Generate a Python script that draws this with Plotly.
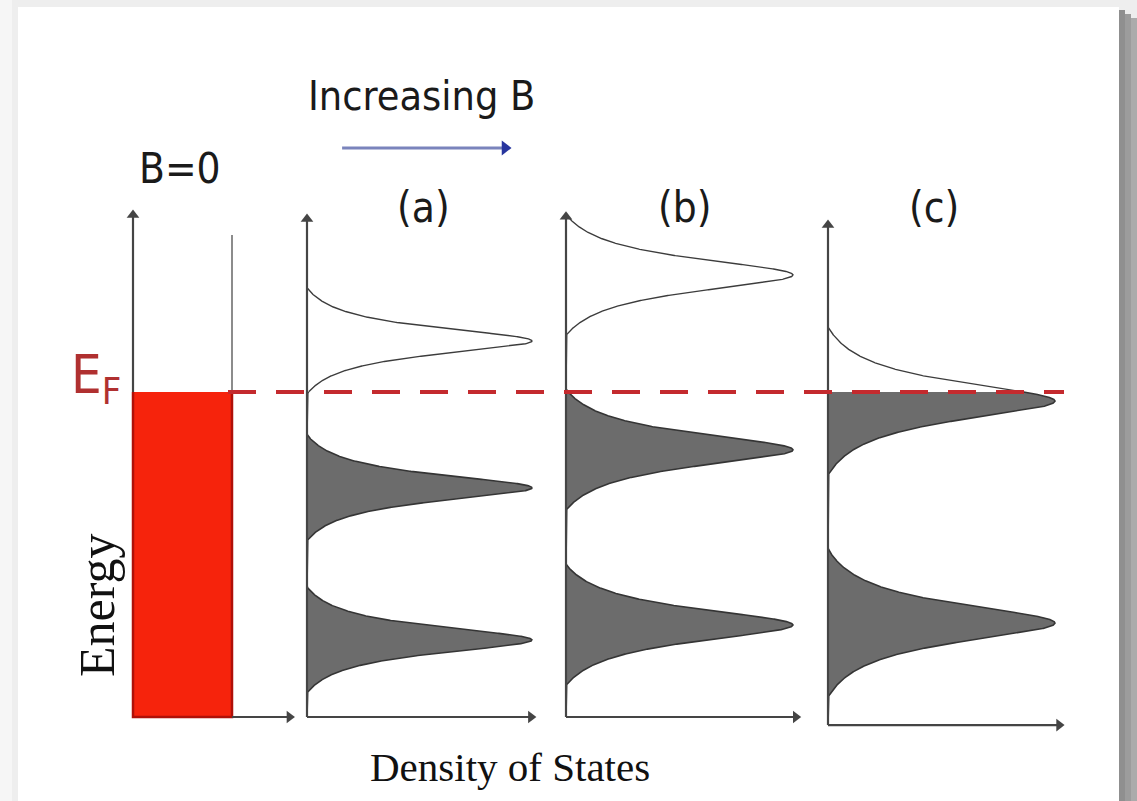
import numpy as np
import plotly.graph_objects as go

W, H = 1137, 801

# ---- data -------------------------------------------------------------
# Energy in units where the bottom of the DOS axes is 0 and E_F is 1
E_FERMI = 1.0
E_RANGE = [-0.2585, 2.2062]

# B = 0: flat 2D density of states, occupied up to E_F
dos_b0 = 1.0
b0_line_top = 1.483

panel_labels = ["(a)", "(b)", "(c)"]
# Landau level centres for increasing field
levels_a = [0.237, 0.705, 1.157]
levels_b = [0.283, 0.822, 1.360]
levels_c = [0.289, 0.972]
# Lorentzian broadening and cut-off half-width of each level
gamma = [0.052, 0.064, 0.074]
cutoff = [0.163, 0.186, 0.228]
peak_height = [1.0, 1.0, 1.0]
# top of each energy axis and bottom of each DOS axis
axis_top = [1.545, 1.532, 1.539, 1.514]
axis_bottom = [0.0, 0.0, 0.0, -0.025]

# ---- helpers ----------------------------------------------------------
def px_x(p):
    return p / W


def px_y(p):
    return 1 - p / H


def landau_dos(E, levels, g, w, A):
    base = 1.0 / (1.0 + (w / g) ** 2)
    total = np.zeros_like(E)
    for e0 in levels:
        L = 1.0 / (1.0 + ((E - e0) / g) ** 2)
        total += A * np.clip((L - base) / (1 - base), 0, None)
    return total


fig = go.Figure()

# panel geometry: (axis id, origin in px, px per DOS unit, arrow length)
panels = [("x", 133, 99.0, 1.58), ("x2", 307, 225.0, 0.995),
          ("x3", 566, 227.0, 1.012), ("x4", 828, 227.0, 1.018)]

axis_col = "#454545"
fill_col = "#6c6c6c"
edge_col = "#353535"

layout_axes = {}
for i, (ax, x0, unit, _) in enumerate(panels):
    left, right = (13, 167) if i == 0 else (12, 250)
    name = "xaxis" if ax == "x" else "xaxis" + ax[1:]
    layout_axes[name] = dict(domain=[px_x(x0 - left), px_x(x0 + right)],
                             range=[-left / unit, right / unit],
                             visible=False, anchor="y", fixedrange=True)


def line(ax, xs, ys, color, width, head=None, head_color=None, head_size=10):
    """Polyline on a panel, optionally ending in a triangular arrow head."""
    fig.add_trace(go.Scatter(x=xs, y=ys, mode="lines", xaxis=ax, yaxis="y",
                             hoverinfo="skip", showlegend=False,
                             line=dict(color=color, width=width)))
    if head:
        fig.add_trace(go.Scatter(x=[xs[-1]], y=[ys[-1]], mode="markers",
                                 xaxis=ax, yaxis="y", hoverinfo="skip",
                                 showlegend=False,
                                 marker=dict(symbol=head, size=head_size,
                                             color=head_color or color,
                                             line=dict(width=0))))


# B = 0 panel: occupied states in red
fig.add_trace(go.Scatter(x=[dos_b0, dos_b0], y=[axis_bottom[0], E_FERMI],
                         mode="lines", fill="tozerox", fillcolor="#f6230c",
                         line=dict(width=0), xaxis="x", yaxis="y",
                         hoverinfo="skip", showlegend=False))
line("x", [dos_b0, dos_b0], [E_FERMI, b0_line_top], "#666666", 1.5)
line("x", [0, 0, dos_b0, dos_b0], [E_FERMI, axis_bottom[0], axis_bottom[0], E_FERMI],
     "#b01008", 2.5)

# Landau-quantised panels
level_sets = [levels_a, levels_b, levels_c]
for i, levels in enumerate(level_sets):
    ax = panels[i + 1][0]
    E = np.linspace(axis_bottom[i + 1], axis_top[i + 1], 3001)
    E = np.unique(np.append(E, E_FERMI))
    d = landau_dos(E, levels, gamma[i], cutoff[i], peak_height[i])
    occ = E <= E_FERMI
    fig.add_trace(go.Scatter(x=d[occ], y=E[occ], mode="lines", fill="tozerox",
                             fillcolor=fill_col, line=dict(color=edge_col, width=1.6),
                             xaxis=ax, yaxis="y", hoverinfo="skip", showlegend=False))
    fig.add_trace(go.Scatter(x=d[~occ], y=E[~occ], mode="lines",
                             line=dict(color="#3c3c3c", width=1.4),
                             xaxis=ax, yaxis="y", hoverinfo="skip", showlegend=False))

# energy and DOS axes with arrow heads
for i, (ax, x0, unit, x_end) in enumerate(panels):
    y_tail = E_FERMI if i == 0 else axis_bottom[i]
    line(ax, [0, 0], [y_tail, axis_top[i]], axis_col, 2.2, head="triangle-up", head_size=11)
    x_tail = dos_b0 if i == 0 else 0
    line(ax, [x_tail, x_end], [axis_bottom[i], axis_bottom[i]], axis_col, 2.2,
         head="triangle-right", head_size=11)

# "Increasing B" arrow, drawn in the (a) panel frame
line("x2", [0.156, 0.880], [1.751, 1.751], "#7a84bc", 3,
     head="triangle-right", head_color="#27359e", head_size=13)

sans = "DejaVu Sans Condensed, Liberation Sans Narrow, sans-serif"
serif = "Liberation Serif, Times New Roman, serif"


def label(text, cx, cy, size, family=sans, color="#1a1a1a", angle=0):
    return dict(x=px_x(cx), y=px_y(cy), xref="paper", yref="paper",
                xanchor="center", yanchor="middle", text=text, textangle=angle,
                showarrow=False, font=dict(family=family, size=size, color=color))


annotations = [label("Increasing B", 421, 96, 41),
               label("B=0", 180, 169, 42)]
for lab, cx in zip(panel_labels, [423, 685, 934]):
    annotations.append(label(lab, cx, 208, 42))
annotations.append(label("E<sub>F</sub>", 96, 378, 54, color="#b03030"))
annotations.append(label("Energy", 97, 606, 50, family=serif, color="#111111", angle=-90))
annotations.append(label("Density of States", 510, 767, 41, family=serif, color="#111111"))

shapes = [
    # white card with a grey drop shadow on the right
    dict(type="rect", xref="paper", yref="paper", x0=px_x(18), x1=px_x(1119),
         y0=px_y(801), y1=px_y(7), fillcolor="white", line=dict(width=0), layer="below"),
    dict(type="rect", xref="paper", yref="paper", x0=px_x(0), x1=px_x(12),
         y0=0, y1=1, fillcolor="#f6f6f6", line=dict(width=0), layer="below"),
    dict(type="rect", xref="paper", yref="paper", x0=px_x(1119), x1=px_x(1125),
         y0=0, y1=px_y(10), fillcolor="#8f8f8f", line=dict(width=0), layer="below"),
    dict(type="rect", xref="paper", yref="paper", x0=px_x(1125), x1=px_x(1131),
         y0=0, y1=px_y(14), fillcolor="#9c9c9c", line=dict(width=0), layer="below"),
    dict(type="rect", xref="paper", yref="paper", x0=px_x(1131), x1=1,
         y0=0, y1=px_y(18), fillcolor="#ababab", line=dict(width=0), layer="below"),
    # Fermi level
    dict(type="line", xref="paper", yref="y", x0=px_x(228), x1=px_x(1064),
         y0=E_FERMI, y1=E_FERMI, line=dict(color="#c42a2e", width=4, dash="28px,20px")),
]

fig.update_layout(
    width=W, height=H,
    margin=dict(l=0, r=0, t=0, b=0),
    paper_bgcolor="#eeeeee",
    plot_bgcolor="rgba(0,0,0,0)",
    showlegend=False,
    yaxis=dict(domain=[0, 1], range=E_RANGE, visible=False, fixedrange=True),
    annotations=annotations,
    shapes=shapes,
    **layout_axes,
)

fig.write_html("out.html", config={"displayModeBar": False})
